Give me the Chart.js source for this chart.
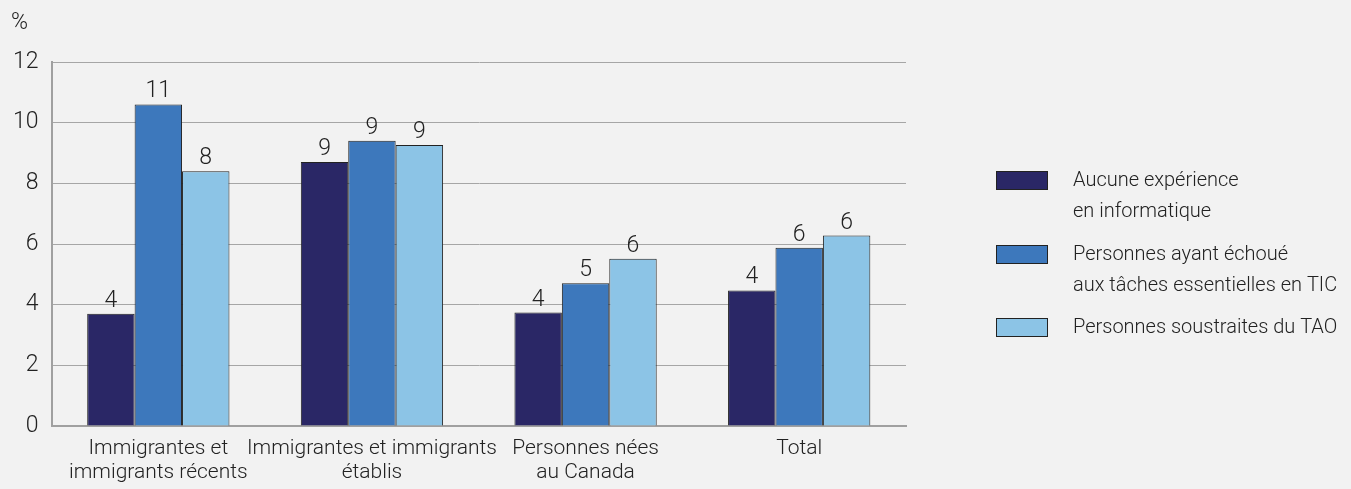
<!DOCTYPE html>
<html>
<head>
<meta charset="utf-8">
<script src="https://cdn.jsdelivr.net/npm/chart.js@4.4.1/dist/chart.umd.min.js"></script>
<style>
  html, body { margin: 0; padding: 0; background: #f2f2f2; }
  #wrap { width: 1351px; height: 489px; position: relative; }
</style>
</head>
<body>
<div id="wrap"><canvas id="barChart" width="1351" height="489"></canvas></div>
<script>
// Data
var categories = [
    ['Immigrantes et', 'immigrants récents'],
    ['Immigrantes et immigrants', 'établis'],
    ['Personnes nées', 'au Canada'],
    'Total'
];
var seriesNames = [
    ['Aucune expérience', 'en informatique'],
    ['Personnes ayant échoué', 'aux tâches essentielles en TIC'],
    ['Personnes soustraites du TAO']
];
var aucuneExperience = [3.7, 8.7, 3.74, 4.47];
var echecTIC = [10.6, 9.4, 4.71, 5.88];
var soustraitesTAO = [8.4, 9.26, 5.51, 6.28];
var yTicks = [0, 2, 4, 6, 8, 10, 12];

var colors = ['#2a2766', '#3d78bc', '#8cc4e6'];
var fontFamily = 'Roboto, "Liberation Sans", Arial, sans-serif';

// Value labels above bars + % unit + legend
var extras = {
    id: 'extras',
    afterDatasetsDraw: function (chart) {
        var ctx = chart.ctx;
        ctx.save();
        ctx.fillStyle = '#222';
        ctx.font = '300 23px ' + fontFamily;
        ctx.textAlign = 'center';
        ctx.textBaseline = 'alphabetic';
        chart.data.datasets.forEach(function (ds, i) {
            chart.getDatasetMeta(i).data.forEach(function (bar, j) {
                ctx.fillText(Math.round(ds.data[j]), bar.x, bar.y - 7);
            });
        });

        // unit
        ctx.textAlign = 'left';
        ctx.textBaseline = 'middle';
        ctx.font = '300 23px ' + fontFamily;
        ctx.fillText('%', 11, 23);

        // legend
        ctx.font = '300 20px ' + fontFamily;
        var boxX = 996, boxW = 52, boxH = 19;
        var tops = [171, 245, 318];
        chart.data.datasets.forEach(function (ds, i) {
            ctx.fillStyle = ds.backgroundColor;
            ctx.fillRect(boxX, tops[i], boxW, boxH);
            ctx.strokeStyle = '#222';
            ctx.lineWidth = 1;
            ctx.strokeRect(boxX + 0.5, tops[i] + 0.5, boxW - 1, boxH - 1);
            ctx.fillStyle = '#222';
            seriesNames[i].forEach(function (line, k) {
                ctx.fillText(line, 1073, tops[i] + 10 + k * 31);
            });
        });
        ctx.restore();
    }
};

var ctxBar = document.getElementById('barChart').getContext('2d');
new Chart(ctxBar, {
    type: 'bar',
    data: {
        labels: categories,
        datasets: [
            { label: seriesNames[0].join(' '), data: aucuneExperience, backgroundColor: colors[0] },
            { label: seriesNames[1].join(' '), data: echecTIC, backgroundColor: colors[1] },
            { label: seriesNames[2].join(' '), data: soustraitesTAO, backgroundColor: colors[2] }
        ]
    },
    options: {
        responsive: false,
        animation: false,
        datasets: {
            bar: {
                categoryPercentage: 0.666,
                barPercentage: 1,
                borderColor: '#222',
                borderWidth: 1
            }
        },
        layout: { padding: { top: 62, right: 445, left: 0, bottom: 0 } },
        plugins: {
            legend: { display: false },
            tooltip: { enabled: false }
        },
        scales: {
            x: {
                afterFit: function (axis) { axis.height = 63; },
                grid: { display: false, drawTicks: false },
                border: { display: true, color: '#a0a0a0', width: 2 },
                ticks: {
                    color: '#222',
                    font: { family: fontFamily, size: 21, weight: 300, lineHeight: 1.15 },
                    padding: 11,
                    maxRotation: 0,
                    autoSkip: false
                }
            },
            y: {
                min: 0,
                max: 12,
                afterBuildTicks: function (axis) {
                    axis.ticks = yTicks.map(function (v) { return { value: v }; });
                },
                grid: { color: '#a6a6a6', lineWidth: 1, drawTicks: false },
                border: { display: true, color: '#a0a0a0', width: 2 },
                ticks: {
                    color: '#222',
                    font: { family: fontFamily, size: 23, weight: 300 },
                    padding: 13
                }
            }
        }
    },
    plugins: [extras]
});
</script>
</body>
</html>
